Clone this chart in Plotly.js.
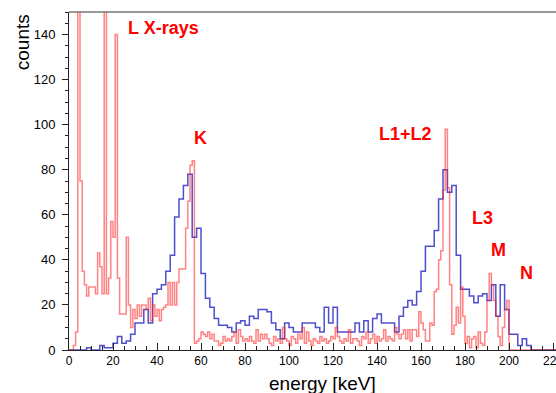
<!DOCTYPE html>
<html><head><meta charset="utf-8">
<script src="https://cdn.plot.ly/plotly-3.0.1.min.js"></script>
<style>
html,body{margin:0;padding:0;overflow:hidden;background:#fff;width:556px;height:393px}
#chart{width:600px;height:393px}
</style>
</head><body><div id="chart"></div>
<script>
// blue histogram: 2 keV bins starting at 0 keV
const blueBinWidth = 2;
const blueCounts = [
  0, 0, 0, 0, 1, 0, 0, 2, 1, 1,
  3, 6, 3, 4, 7, 12, 12, 18, 12, 25,
  27, 29, 35, 42, 59, 67, 73, 78, 50, 54,
  34, 23, 19, 14, 11, 11, 10, 8, 12, 13,
  11, 15, 14, 18, 18, 17, 12, 9, 5, 12,
  10, 8, 8, 12, 12, 12, 10, 8, 19, 12,
  19, 8, 8, 8, 8, 12, 8, 13, 8, 14,
  16, 12, 12, 12, 8, 15, 19, 22, 20, 26,
  35, 46, 46, 53, 67, 80, 70, 73, 42, 27,
  27, 24, 21, 24, 25, 22, 29, 15, 29, 18,
  7, 7, 2, 5, 2, 0, 0, 0, 0, 0,
  0, 0, 0, 0, 0
];
// red histogram: 1 keV bins starting at 0 keV
const redBinWidth = 1;
const redCounts = [
  0, 0, 2, 8, 400, 75, 35, 29, 24, 28,
  28, 28, 25, 43, 37, 25, 260, 25, 32, 57,
  50, 140, 32, 16, 16, 16, 50, 20, 10, 18,
  14, 20, 15, 20, 20, 18, 23, 13, 20, 15,
  18, 13, 18, 19, 20, 30, 20, 30, 20, 30,
  36, 36, 36, 54, 66, 82, 84, 3, 4, 5,
  8, 7, 6, 8, 5, 7, 4, 4, 2, 3,
  6, 4, 5, 4, 6, 8, 3, 9, 6, 4,
  5, 4, 6, 4, 3, 9, 4, 7, 5, 7,
  5, 3, 2, 6, 4, 5, 3, 10, 5, 4,
  2, 6, 5, 3, 7, 5, 10, 3, 8, 4,
  2, 5, 4, 3, 6, 4, 5, 3, 4, 6,
  5, 10, 6, 4, 3, 5, 4, 9, 3, 5,
  5, 4, 2, 6, 5, 8, 3, 5, 7, 3,
  6, 4, 5, 9, 4, 6, 5, 4, 10, 7,
  5, 7, 9, 5, 9, 4, 9, 9, 6, 17,
  12, 9, 4, 4, 12, 11, 26, 27, 40, 44,
  71, 98, 72, 29, 7, 11, 19, 12, 28, 15,
  3, 6, 1, 5, 6, 1, 8, 3, 2, 8,
  22, 34, 29, 22, 15, 6, 2, 10, 18, 22,
  0, 0, 0, 0, 0, 0, 0, 0, 0, 0,
  0, 0, 0, 0, 0, 0, 0, 0, 0, 0,
  0, 0, 0, 0, 0, 0, 0, 0, 0, 0
];
const peakLabels = ["L X-rays", "K", "L1+L2", "L3", "M", "N"];
const labelEnergy = [25.8, 59.9, 153, 187.8, 195.2, 208];
const labelCounts = [143.1, 94.2, 96.0, 58.7, 44.4, 34.0];
const labelAnchor = ["left", "center", "center", "center", "center", "center"];
const xTitle = "energy [keV]";
const yTitle = "counts";

function stepTrace(counts, width, color) {
  const x = [], y = [];
  counts.forEach((c, i) => { x.push(i * width); y.push(c); });
  x.push(counts.length * width); y.push(counts[counts.length - 1]);
  return {x, y, type: 'scatter', mode: 'lines',
    line: {shape: 'hv', color: color, width: 1.5},
    hoverinfo: 'skip', showlegend: false};
}

const traces = [
  stepTrace(blueCounts, blueBinWidth, 'rgba(20,20,190,0.75)'),
  stepTrace(redCounts, redBinWidth, 'rgba(255,30,30,0.55)')
];

const FONT = 'Liberation Sans, Arial, Helvetica, sans-serif';
const annotations = peakLabels.map((t, i) => ({
  text: '<b>' + t + '</b>', x: labelEnergy[i], y: labelCounts[i],
  xref: 'x', yref: 'y', xanchor: labelAnchor[i], yanchor: 'middle',
  showarrow: false, font: {family: FONT, size: 18, color: '#ff0000'}
}));
annotations.push({text: yTitle, xref: 'paper', yref: 'paper', x: -0.0919, y: 0.912,
  xanchor: 'center', yanchor: 'middle', textangle: -90, showarrow: false,
  font: {family: FONT, size: 19, color: '#000'}});
annotations.push({text: xTitle, xref: 'paper', yref: 'paper', x: 0.501, y: -0.099,
  xanchor: 'center', yanchor: 'middle', showarrow: false,
  font: {family: FONT, size: 19, color: '#000'}});

const layout = {
  width: 600, height: 393,
  margin: {l: 69, r: 25, t: 12, b: 43, pad: 0},
  paper_bgcolor: '#fff', plot_bgcolor: '#fff',
  font: {family: FONT, color: '#000'},
  showlegend: false,
  xaxis: {range: [0, 230], showgrid: false, zeroline: false, showline: true,
    linecolor: '#222', linewidth: 1, mirror: false,
    ticks: 'inside', ticklen: 7, tickcolor: '#222', tickwidth: 1,
    tick0: 0, dtick: 20, tickfont: {size: 12, family: FONT},
    minor: {ticks: 'inside', dtick: 5, ticklen: 4, tickcolor: '#222', showgrid: false}},
  yaxis: {range: [0, 150], showgrid: false, zeroline: false, showline: true,
    linecolor: '#222', linewidth: 1,
    ticks: 'outside', ticklen: 6, tickcolor: '#222', tickwidth: 1,
    tick0: 0, dtick: 20, tickfont: {size: 13, family: FONT}, ticklabelstandoff: 4,
    minor: {ticks: 'outside', dtick: 5, ticklen: 3, tickcolor: '#222', showgrid: false}},
  shapes: [{type: 'line', xref: 'paper', yref: 'paper', x0: 0, x1: 1, y0: 1, y1: 1,
    line: {color: '#777', width: 1.5}}],
  annotations: annotations
};

Plotly.newPlot('chart', traces, layout, {staticPlot: true, displayModeBar: false});
</script>
</body></html>
